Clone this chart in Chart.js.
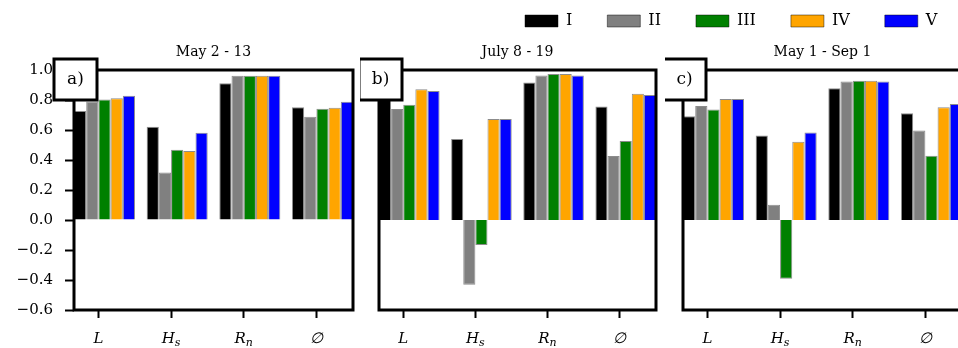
<!DOCTYPE html>
<html>
<head>
<meta charset="utf-8">
<script src="https://cdn.jsdelivr.net/npm/chart.js@4.4.0/dist/chart.umd.min.js"></script>
<style>
  html, body { margin:0; padding:0; background:#fff; }
  #wrap { position:relative; width:958px; height:348px; overflow:hidden; background:#fff; }
  canvas { position:absolute; }
</style>
</head>
<body>
<div id="wrap">
  <canvas id="pa" width="360" height="348" style="left:0;top:0"></canvas>
  <canvas id="pb" width="310" height="348" style="left:360px;top:0"></canvas>
  <canvas id="pc" width="310" height="348" style="left:665px;top:0"></canvas>
  <canvas id="leg" width="540" height="140" style="left:490px;top:-22px"></canvas>
</div>
<script>
// categories (underscore = subscript)
const cats = ['L', 'H_s', 'R_n', '∅'];
const seriesNames = ['I', 'II', 'III', 'IV', 'V'];
const colors = ['#000000', '#808080', '#008000', '#ffa500', '#0000ff'];
const yTicks = [1.0, 0.8, 0.6, 0.4, 0.2, 0.0, -0.2, -0.4, -0.6];

// a) May 2 - 13
const a_I   = [0.727, 0.622, 0.911, 0.751];
const a_II  = [0.790, 0.316, 0.962, 0.689];
const a_III = [0.804, 0.469, 0.962, 0.742];
const a_IV  = [0.811, 0.460, 0.962, 0.749];
const a_V   = [0.829, 0.582, 0.962, 0.789];
// b) July 8 - 19
const b_I   = [0.840, 0.540, 0.916, 0.756];
const b_II  = [0.740, -0.431, 0.964, 0.427];
const b_III = [0.769, -0.167, 0.973, 0.527];
const b_IV  = [0.871, 0.673, 0.973, 0.842];
const b_V   = [0.860, 0.673, 0.964, 0.833];
// c) May 1 - Sep 1
const c_I   = [0.691, 0.564, 0.878, 0.711];
const c_II  = [0.760, 0.102, 0.924, 0.596];
const c_III = [0.736, -0.391, 0.929, 0.429];
const c_IV  = [0.807, 0.522, 0.929, 0.751];
const c_V   = [0.807, 0.584, 0.924, 0.773];

const SERIF = '"DejaVu Serif", "Liberation Serif", serif';
const SHIFT = 0.084; // ticks sit at left edge of middle bar

function fmt(v){
  return (Math.round(v * 10) / 10).toFixed(1).replace('-', '\u2212');
}

// frame, panel tag and x labels with subscripts
const framePlugin = {
  id: 'frame',
  afterDatasetsDraw(chart, args, opts){
    const ctx = chart.ctx, a = chart.chartArea;
    ctx.save();
    ctx.lineWidth = 3;
    ctx.strokeStyle = '#000';
    ctx.strokeRect(a.left, a.top, a.right - a.left, a.bottom - a.top);

    const bx = a.left - 20, by = a.top - 11;
    ctx.fillStyle = '#fff';
    ctx.fillRect(bx, by, 43, 41);
    ctx.strokeRect(bx, by, 43, 41);
    ctx.fillStyle = '#000';
    ctx.font = '17px ' + SERIF;
    ctx.textAlign = 'center';
    ctx.textBaseline = 'middle';
    ctx.fillText(opts.tag, bx + 21.5, by + 21);

    const xs = chart.scales.x;
    ctx.textAlign = 'left';
    ctx.textBaseline = 'alphabetic';
    xs.ticks.forEach((t, i) => {
      const parts = cats[i].split('_');
      const px = xs.getPixelForValue(t.value);
      ctx.font = 'italic 15px ' + SERIF;
      const w1 = ctx.measureText(parts[0]).width;
      let w2 = 0;
      if (parts[1]) { ctx.font = 'italic 11px ' + SERIF; w2 = ctx.measureText(parts[1]).width; }
      const x0 = px - (w1 + w2) / 2;
      ctx.font = 'italic 15px ' + SERIF;
      ctx.fillText(parts[0], x0, 343);
      if (parts[1]) { ctx.font = 'italic 11px ' + SERIF; ctx.fillText(parts[1], x0 + w1, 346); }
    });
    ctx.restore();
  }
};

function makePanel(id, title, tag, vals, showY, pad){
  const datasets = vals.map((arr, k) => ({
    label: seriesNames[k],
    data: arr.map((v, i) => ({ x: i, y: v })),
    backgroundColor: colors[k],
    borderColor: 'rgba(0,0,0,0.45)',
    borderWidth: 1,
    categoryPercentage: 0.84,
    barPercentage: 1.0
  }));
  return new Chart(document.getElementById(id), {
    type: 'bar',
    data: { datasets },
    plugins: [framePlugin],
    options: {
      responsive: false,
      animation: false,
      layout: { padding: pad },
      plugins: {
        legend: { display: false },
        tooltip: { enabled: false },
        title: {
          display: true, text: title, fullSize: false, color: '#000',
          font: { family: SERIF, size: 14, weight: 'normal', lineHeight: 1 },
          padding: { top: 45, bottom: 11 }
        },
        frame: { tag }
      },
      scales: {
        x: {
          type: 'linear', min: -0.42, max: 3.42, offset: false,
          afterBuildTicks: ax => { ax.ticks = cats.map((c, i) => ({ value: i - SHIFT })); },
          afterFit: ax => { ax.height = 38; },
          ticks: { display: false },
          border: { display: false },
          grid: { offset: false, drawOnChartArea: false, drawTicks: true, tickLength: 8, tickWidth: 2, tickColor: '#000' }
        },
        y: showY ? {
          min: -0.6, max: 1.0,
          afterBuildTicks: ax => { ax.ticks = yTicks.map(v => ({ value: v })); },
          afterFit: ax => { ax.width = 74; },
          ticks: { padding: 12, color: '#000', font: { family: SERIF, size: 15 }, callback: v => fmt(v) },
          border: { display: false },
          grid: { drawOnChartArea: false, drawTicks: true, tickLength: 9, tickWidth: 2, tickColor: '#000' }
        } : { display: false, min: -0.6, max: 1.0 }
      }
    }
  });
}

makePanel('pa', 'May 2 - 13', 'a)', [a_I, a_II, a_III, a_IV, a_V], true, { left: 0, right: 7, top: 0, bottom: 0 });
makePanel('pb', 'July 8 - 19', 'b)', [b_I, b_II, b_III, b_IV, b_V], false, { left: 19, right: 14, top: 0, bottom: 0 });
makePanel('pc', 'May 1 - Sep 1', 'c)', [c_I, c_II, c_III, c_IV, c_V], false, { left: 18, right: 13, top: 0, bottom: 0 });

// shared legend
new Chart(document.getElementById('leg'), {
  type: 'bar',
  data: {
    labels: [],
    datasets: seriesNames.map((n, k) => ({
      label: n, data: [], backgroundColor: colors[k],
      borderColor: 'rgba(0,0,0,0.45)', borderWidth: 1
    }))
  },
  options: {
    responsive: false,
    animation: false,
    scales: { x: { display: false }, y: { display: false } },
    plugins: {
      tooltip: { enabled: false },
      legend: {
        display: true, align: 'start',
        labels: { boxWidth: 33, boxHeight: 12, padding: 35, color: '#000', font: { family: SERIF, size: 16 } }
      }
    }
  }
});
</script>
</body>
</html>
